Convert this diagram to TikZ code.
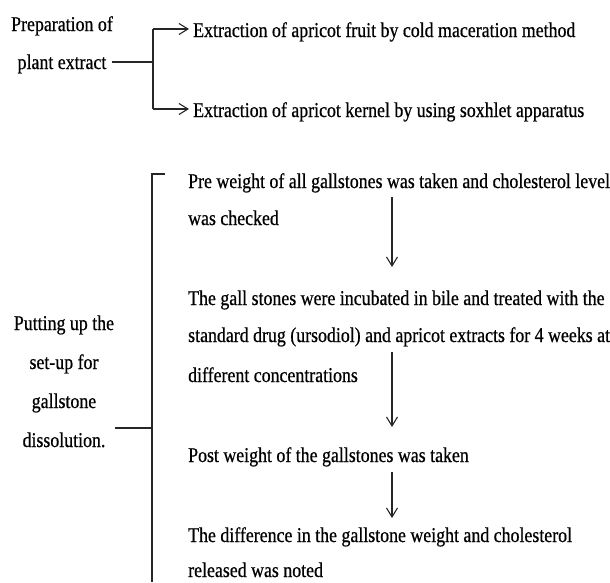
\documentclass[tikz,border=0pt]{standalone}
\usepackage{fontspec}
\setmainfont{Liberation Serif}[FakeStretch=0.85,FakeBold=0.6]
\usetikzlibrary{arrows.meta}
\begin{document}
\begin{tikzpicture}[x=1pt,y=-1pt,
  txt/.style={inner sep=0pt, font=\fontsize{21}{24}\selectfont, text=black},
  lft/.style={txt, anchor=base west},
  ctr/.style={txt, anchor=base},
  ln/.style={line width=1.2pt, black!85},
  arr/.style={ln, -{Straight Barb[length=9pt,width=11pt,line width=1.1pt]}}]
\useasboundingbox (0,0) rectangle (610,582);
% top part
\node[ctr] (prepA) at (62,31) {Preparation of};
\node[ctr] (prepB) at (62,69) {plant extract};
\node[lft] (extA) at (193,37) {Extraction of apricot fruit by cold maceration method};
\node[lft] (extB) at (193,117) {Extraction of apricot kernel by using soxhlet apparatus};
\coordinate (pj) at (153,62);
\coordinate (pt) at (153,29);
\coordinate (pb) at (153,109);
\draw[ln] ([xshift=5pt]prepB.east |- pj) -- (pj);
\draw[ln] (pt) -- (pb);
\draw[arr] (pt) -- ([xshift=-4pt]extA.west |- pt);
\draw[arr] (pb) -- ([xshift=-4pt]extB.west |- pb);
% bottom part
\node[ctr] (putA) at (64,330) {Putting up the};
\node[ctr] (putB) at (64,369) {set-up for};
\node[ctr] (putC) at (64,408) {gallstone};
\node[ctr] (putD) at (64,447) {dissolution.};
\node[lft] (s1a) at (188,188) {Pre weight of all gallstones was taken and cholesterol level};
\node[lft] (s1b) at (188,225) {was checked};
\node[lft] (s2a) at (188,305) {The gall stones were incubated in bile and treated with the};
\node[lft] (s2b) at (188,342) {standard drug (ursodiol) and apricot extracts for 4 weeks at};
\node[lft] (s2c) at (188,382) {different concentrations};
\node[lft] (s3a) at (188,462) {Post weight of the gallstones was taken};
\node[lft] (s4a) at (188,542) {The difference in the gallstone weight and cholesterol};
\node[lft] (s4b) at (188,577) {released was noted};
\coordinate (bj) at (152,428);
\coordinate (bt) at (152,174);
\coordinate (bb) at (152,582);
\draw[ln] ([xshift=9pt]putD.east |- bj) -- (bj);
\draw[ln] (165,174) -- (bt) -- (bb);
\coordinate (a1s) at (392,197);
\coordinate (a1e) at (392,267);
\coordinate (a2s) at (392,352);
\coordinate (a2e) at (392,427);
\coordinate (a3s) at (392,472);
\coordinate (a3e) at (392,518);
\draw[arr] (a1s) -- (a1e);
\draw[arr] (a2s) -- (a2e);
\draw[arr] (a3s) -- (a3e);
\end{tikzpicture}
\end{document}
